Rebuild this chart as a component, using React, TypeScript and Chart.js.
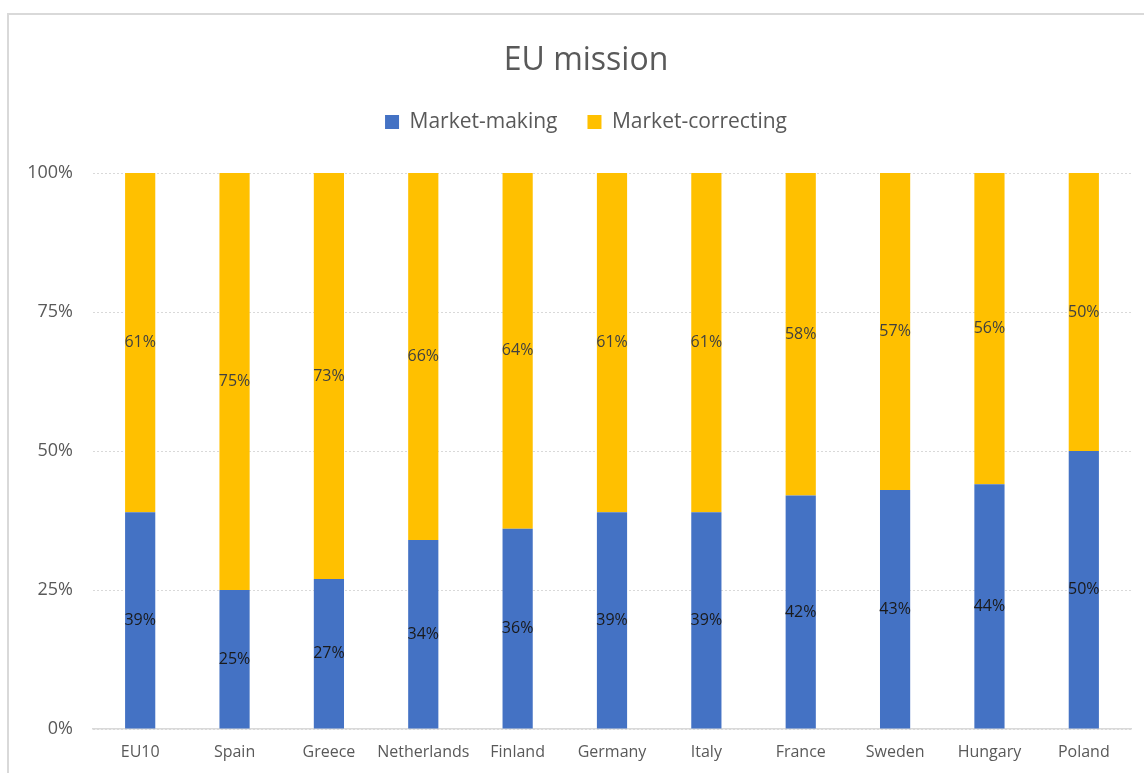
import React, { useEffect, useRef } from "react";
import { Chart, registerables } from "chart.js";

Chart.register(...registerables);

const categories = ["EU10", "Spain", "Greece", "Netherlands", "Finland", "Germany", "Italy", "France", "Sweden", "Hungary", "Poland"];
const marketMaking = [39, 25, 27, 34, 36, 39, 39, 42, 43, 44, 50];
const marketCorrecting = [61, 75, 73, 66, 64, 61, 61, 58, 57, 56, 50];
const yTicks = [0, 25, 50, 75, 100];
const seriesNames = ["Market-making", "Market-correcting"];
const seriesColors = ["#4472C4", "#FFC000"];
const labelColors = ["#1a1a1a", "#404040"];

const FONT = "'Open Sans', 'DejaVu Sans', sans-serif";

const segmentLabels = {
  id: "segmentLabels",
  afterDatasetsDraw(chart: any) {
    const ctx = chart.ctx;
    ctx.save();
    ctx.font = `16px ${FONT}`;
    ctx.textAlign = "center";
    ctx.textBaseline = "middle";
    chart.data.datasets.forEach((ds: any, di: number) => {
      const meta = chart.getDatasetMeta(di);
      meta.data.forEach((el: any, i: number) => {
        const v = ds.data[i];
        ctx.fillStyle = labelColors[di];
        ctx.fillText(`${v}%`, el.x, (el.y + el.base) / 2);
      });
    });
    ctx.restore();
  },
};

export default function App() {
  const ref = useRef<HTMLCanvasElement | null>(null);

  useEffect(() => {
    if (!ref.current) return;
    const chart = new Chart(ref.current, {
      type: "bar",
      data: {
        labels: categories,
        datasets: [
          {
            label: seriesNames[0],
            data: marketMaking,
            backgroundColor: seriesColors[0],
            categoryPercentage: 1,
            barPercentage: 0.32,
            xAxisID: "x",
            yAxisID: "y",
          },
          {
            label: seriesNames[1],
            data: marketCorrecting,
            backgroundColor: seriesColors[1],
            categoryPercentage: 1,
            barPercentage: 0.32,
            xAxisID: "x",
            yAxisID: "y",
          },
        ],
      },
      options: {
        responsive: false,
        animation: false,
        devicePixelRatio: 1,
        layout: { padding: { top: 13, left: 10, right: -18, bottom: 0 } },
        plugins: {
          title: {
            display: true,
            text: "EU mission",
            color: "#595959",
            font: { family: FONT, size: 32, weight: "normal", lineHeight: 1 },
            padding: { top: 32, bottom: 4.5 },
          },
          legend: {
            display: true,
            position: "top",
            labels: {
              color: "#595959",
              font: { family: FONT, size: 21 },
              boxWidth: 14,
              boxHeight: 14,
              padding: 30,
            },
          },
          tooltip: { enabled: false },
        },
        scales: {
          x: {
            stacked: true,
            grid: { display: false, drawTicks: false },
            border: { display: true, color: "#d9d9d9", width: 1.5 },
            ticks: {
              color: "#595959",
              font: { family: FONT, size: 16 },
              padding: 14,
              maxRotation: 0,
              autoSkip: false,
            },
            afterFit: (s: any) => {
              s.height = 44;
            },
          },
          y: {
            stacked: true,
            min: 0,
            max: 100,
            grid: { color: "#d9d9d9", lineWidth: 1, drawTicks: false },
            border: { display: false, dash: [2, 2] },
            ticks: {
              color: "#595959",
              font: { family: FONT, size: 18 },
              padding: 20,
              callback: (v: any) => `${v}%`,
            },
            afterBuildTicks: (s: any) => {
              s.ticks = yTicks.map((v) => ({ value: v }));
            },
            afterFit: (s: any) => {
              s.width = 83;
            },
          },
          spacer: {
            type: "category",
            position: "top",
            display: true,
            grid: { display: false, drawTicks: false },
            border: { display: false },
            ticks: { display: false },
            afterFit: (s: any) => {
              s.height = 30.5;
            },
          },
          spacerRight: {
            type: "linear",
            position: "right",
            display: true,
            grid: { display: false, drawTicks: false },
            border: { display: false },
            ticks: { display: false },
            afterFit: (s: any) => {
              s.width = 31;
            },
          },
        },
      },
      plugins: [segmentLabels],
    } as any);
    return () => chart.destroy();
  }, []);

  return (
    <div style={{ position: "absolute", left: 0, top: 0, width: 1144, height: 773, overflow: "hidden", background: "#fff" }}>
      <div
        style={{
          position: "absolute",
          left: 7,
          top: 13,
          width: 1200,
          height: 800,
          borderLeft: "2px solid #d9d9d9",
          borderTop: "2px solid #d9d9d9",
        }}
      />
      <canvas ref={ref} width={1144} height={773} style={{ position: "absolute", left: 0, top: 0 }} />
    </div>
  );
}
